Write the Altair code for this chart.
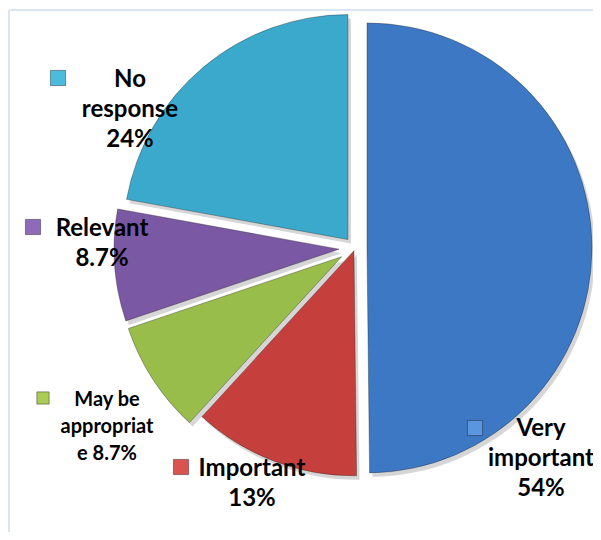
import altair as alt
import pandas as pd

# ---- data ----
categories = ["Very important", "Important", "May be appropriate", "Relevant", "No response"]
values = [54, 13, 8.7, 8.7, 24]
label_texts = ["Very\nimportant\n54%", "Important\n13%", "May be\nappropriat\ne 8.7%",
               "Relevant\n8.7%", "No\nresponse\n24%"]

# ---- styles ----
COLORS = ["#3d78c4", "#c5403d", "#98bd4a", "#7b58a3", "#3aa9cc"]
KEY_COLORS = ["#5a95e0", "#d9534f", "#a9cc55", "#8e6bb8", "#4cbcdc"]
EXPLODE = [12, 3, 16, 16, 11]          # px offset of each slice along its bisector
CX, CY, RADIUS = 347, 240, 225
LABEL_X = [533, 244, 99, 94, 122]
LABEL_Y = [421, 461, 392, 221, 72]     # first line centre
SMALL = [False, False, True, False, False]
KEY_X = [467, 173, 35, 25, 50]
KEY_Y = [420, 459, 390, 219, 70]

W, H = 585, 524

df = pd.DataFrame({
    "category": categories,
    "value": values,
    "order": list(range(len(categories))),
    "color": COLORS,
    "explode": EXPLODE,
})

lab = pd.DataFrame({
    "category": categories,
    "label": label_texts,
    "lx": LABEL_X, "ly": LABEL_Y,
    "kx": KEY_X, "ky": KEY_Y,
    "color": KEY_COLORS,
    "small": SMALL,
})


def slices(shadow=False):
    dx, dy = (3, 4) if shadow else (0, 0)
    c = (
        alt.Chart(df)
        .transform_joinaggregate(total="sum(value)")
        .transform_window(cum="sum(value)", sort=[alt.SortField("order")], frame=[None, 0])
        .transform_calculate(
            mid="(datum.cum - datum.value/2) / datum.total * 2 * PI",
            cx=f"{CX + dx} + datum.explode * sin(datum.mid)",
            cy=f"{CY + dy} - datum.explode * cos(datum.mid)",
        )
    )
    if shadow:
        m = c.mark_arc(radius=RADIUS, color="#000000", opacity=0.16)
        enc = dict()
    else:
        m = c.mark_arc(radius=RADIUS, stroke="#1a1a1a", strokeOpacity=0.35, strokeWidth=1)
        enc = dict(color=alt.Color("color:N", scale=None))
    return m.encode(
        theta=alt.Theta("value:Q", stack=True),
        order=alt.Order("order:Q"),
        x=alt.X("cx:Q", scale=None),
        y=alt.Y("cy:Q", scale=None),
        **enc,
    )


shadow = slices(shadow=True)
arcs = slices()

labels_big = alt.Chart(lab).transform_filter("!datum.small").mark_text(
    font="Lato", fontWeight="bold", fontSize=24, lineBreak="\n", lineHeight=30,
    align="center", baseline="middle", color="#000000",
).encode(x=alt.X("lx:Q", scale=None), y=alt.Y("ly:Q", scale=None), text="label:N")

labels_small = alt.Chart(lab).transform_filter("datum.small").mark_text(
    font="Lato", fontWeight="bold", fontSize=20, lineBreak="\n", lineHeight=27,
    align="center", baseline="middle", color="#000000",
).encode(x=alt.X("lx:Q", scale=None), y=alt.Y("ly:Q", scale=None), text="label:N")

keys = alt.Chart(lab).mark_square(filled=True, stroke="#222222",
                                  strokeOpacity=0.45, strokeWidth=1, opacity=1).encode(
    x=alt.X("kx:Q", scale=None), y=alt.Y("ky:Q", scale=None),
    color=alt.Color("color:N", scale=None),
    size=alt.condition("datum.small", alt.value(150), alt.value(230)),
)

one = pd.DataFrame({"k": [0]})
frame_top = alt.Chart(one).mark_rule(color="#dce6f2", strokeWidth=2).encode(
    x=alt.value(1), x2=alt.value(W), y=alt.value(2))
frame_left = alt.Chart(one).mark_rule(color="#dce6f2", strokeWidth=2).encode(
    x=alt.value(1), y=alt.value(2), y2=alt.value(H))

chart = (
    alt.layer(frame_top, frame_left, shadow, arcs, keys, labels_big, labels_small)
    .properties(width=W, height=H, padding=0, autosize="none", background="#ffffff")
    .configure_view(stroke=None)
)

chart.save("out.html", embed_options={"renderer": "svg", "actions": False})
